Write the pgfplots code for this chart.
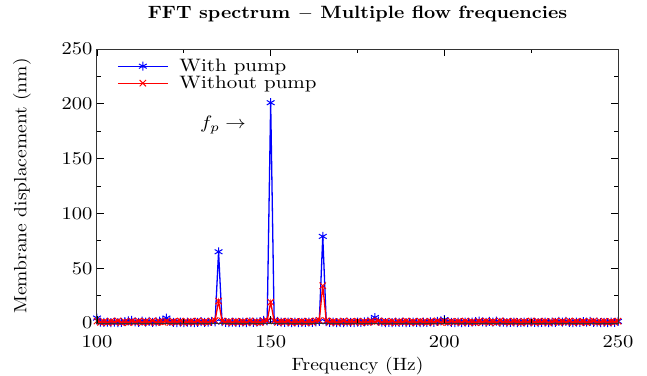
\documentclass[border=0pt]{standalone}
\usepackage{graphicx}
\usepackage{pgfplots}
\pgfplotsset{compat=1.18}
\usepackage{pgfplotstable}
\newcommand{\Sc}[1]{\scalebox{1.95}[1.78]{#1}}
\newcommand{\St}[1]{\scalebox{2.05}[1.8]{#1}}
\newcommand{\Sl}[1]{\hspace*{9pt}\scalebox{2.1}[1.8]{#1}}
\pgfplotstableread{
x y
100 4.5
101 0.8
102 0.5
103 0.9
104 0.4
105 0.7
106 0.3
107 0.6
108 1.2
109 2.0
110 2.5
111 1.0
112 0.5
113 1.8
114 0.9
115 1.5
116 0.6
117 1.0
118 1.8
119 2.5
120 4.5
121 1.5
122 0.5
123 0.3
124 0.7
125 0.4
126 0.9
127 0.5
128 0.3
129 0.6
130 1.2
131 0.5
132 0.8
133 1.5
134 1.0
135 65
136 1.2
137 0.6
138 0.4
139 0.8
140 0.5
141 0.3
142 0.7
143 0.4
144 1.0
145 0.6
146 0.9
147 1.3
148 2.5
149 2.0
150 201
151 2.5
152 1.5
153 0.8
154 0.5
155 0.9
156 0.4
157 0.7
158 0.3
159 0.6
160 0.5
161 0.8
162 0.6
163 1.0
164 1.5
165 79
166 1.2
167 0.5
168 0.7
169 0.4
170 0.6
171 0.3
172 0.8
173 0.5
174 0.4
175 0.9
176 0.6
177 1.0
178 1.5
179 2.0
180 5.0
181 1.8
182 0.7
183 0.4
184 0.6
185 0.3
186 0.8
187 0.5
188 0.7
189 0.4
190 0.6
191 0.9
192 0.5
193 0.3
194 0.8
195 0.5
196 1.0
197 0.6
198 1.5
199 2.0
200 3.0
201 1.2
202 0.6
203 0.4
204 0.8
205 0.3
206 0.7
207 0.5
208 0.9
209 1.2
210 1.8
211 1.0
212 0.6
213 1.5
214 0.8
215 1.6
216 0.5
217 0.7
218 0.4
219 0.6
220 0.9
221 0.3
222 0.5
223 0.8
224 0.4
225 0.7
226 0.5
227 0.3
228 0.6
229 0.9
230 0.4
231 0.7
232 0.5
233 1.4
234 0.8
235 1.5
236 0.6
237 0.4
238 0.9
239 0.5
240 1.3
241 0.7
242 1.4
243 0.5
244 0.8
245 0.4
246 0.6
247 0.3
248 0.7
249 0.5
250 1.5
}\withpump
\pgfplotstableread{
x y
100 1.8
101 0.6
102 1.2
103 0.4
104 1.5
105 0.8
106 1.9
107 0.5
108 1.1
109 0.3
110 1.6
111 0.9
112 1.7
113 0.4
114 1.3
115 0.7
116 2.0
117 0.5
118 1.2
119 0.8
120 1.6
121 0.4
122 1.4
123 0.9
124 1.8
125 0.3
126 1.0
127 1.5
128 0.6
129 1.9
130 0.7
131 1.3
132 0.5
133 1.7
134 2.2
135 20
136 1.8
137 0.9
138 1.4
139 0.4
140 1.6
141 0.8
142 1.2
143 0.5
144 1.9
145 0.7
146 1.1
147 0.4
148 1.5
149 2.0
150 19
151 1.9
152 0.6
153 1.4
154 0.9
155 1.7
156 0.3
157 1.2
158 0.8
159 1.6
160 0.5
161 1.3
162 0.7
163 1.8
164 2.3
165 34
166 2.0
167 0.8
168 1.5
169 0.4
170 1.1
171 1.8
172 0.6
173 1.3
174 0.9
175 1.7
176 0.4
177 1.2
178 0.7
179 1.6
180 1.0
181 1.9
182 0.5
183 1.4
184 0.8
185 1.6
186 0.3
187 1.2
188 0.9
189 1.8
190 0.6
191 1.3
192 0.4
193 1.7
194 1.0
195 0.5
196 1.5
197 0.8
198 1.9
199 0.6
200 1.2
201 0.4
202 1.6
203 0.9
204 1.4
205 0.5
206 1.8
207 0.7
208 1.1
209 0.3
210 1.5
211 0.9
212 1.7
213 0.6
214 1.3
215 0.4
216 1.9
217 0.8
218 1.2
219 0.5
220 1.6
221 1.0
222 0.4
223 1.4
224 0.7
225 1.8
226 0.5
227 1.2
228 0.9
229 1.6
230 0.3
231 1.1
232 1.7
233 0.6
234 1.4
235 0.8
236 1.9
237 0.5
238 1.3
239 0.7
240 1.5
241 0.4
242 1.2
243 1.8
244 0.6
245 1.0
246 1.6
247 0.4
248 1.3
249 0.8
250 1.7
}\withoutpump
\begin{document}
\begin{tikzpicture}
\path[use as bounding box] (-97pt,-52pt) rectangle (550pt,323pt);
\begin{axis}[
  at={(0pt,0pt)}, anchor=south west,
  scale only axis,
  width=521pt, height=274pt,
  xmin=100, xmax=250, ymin=0, ymax=250,
  xtick={100,150,200,250}, ytick={0,50,100,150,200,250},
  minor xtick={125,175,225}, minor ytick={25,75,125,175,225},
  tick align=inside,
  major tick length=7pt, minor tick length=4pt,
  tick style={black, line width=0.8pt},
  axis line style={line width=1pt, black!80},
  xticklabel={\St{$\pgfmathprintnumber{\tick}$}},
  yticklabel={\St{$\pgfmathprintnumber{\tick}$}},
  xticklabel style={yshift=-9pt},
  yticklabel style={xshift=-1pt},
  xlabel={\Sc{Frequency (Hz)}},
  ylabel={\Sc{Membrane displacement (nm)}},
  xlabel style={at={(axis description cs:0.5,-0.157)}, anchor=center},
  ylabel style={at={(axis description cs:-0.144,0.5)}, anchor=center},
  title={\Sc{\bfseries FFT spectrum $-$ Multiple flow frequencies}},
  title style={at={(axis description cs:0.5,1.106)}, anchor=center},
  clip mode=individual,
  axis on top,
  legend style={draw=none, fill=none, at={(0,1)}, anchor=north west, xshift=20pt, yshift=-8pt, row sep=-1pt, inner sep=0pt},
  legend cell align=left,
  legend image code/.code={\draw[mark repeat=2,mark phase=2,#1] plot coordinates {(0pt,0pt)(25pt,0pt)(50pt,0pt)};},
]
\addplot[blue, line width=1.3pt, mark=asterisk, mark size=4.5pt, mark options={line width=1pt}] table[x=x,y=y] {\withpump};
\addlegendentry{\Sl{With pump}}
\addplot[red, line width=1.3pt, mark=x, mark size=4.5pt, mark options={line width=1pt}] table[x=x,y=y] {\withoutpump};
\addlegendentry{\Sl{Without pump}}
\node at (axis cs:136.3,180.7) {\St{$f_p\rightarrow$}};
\end{axis}
\end{tikzpicture}
\end{document}
